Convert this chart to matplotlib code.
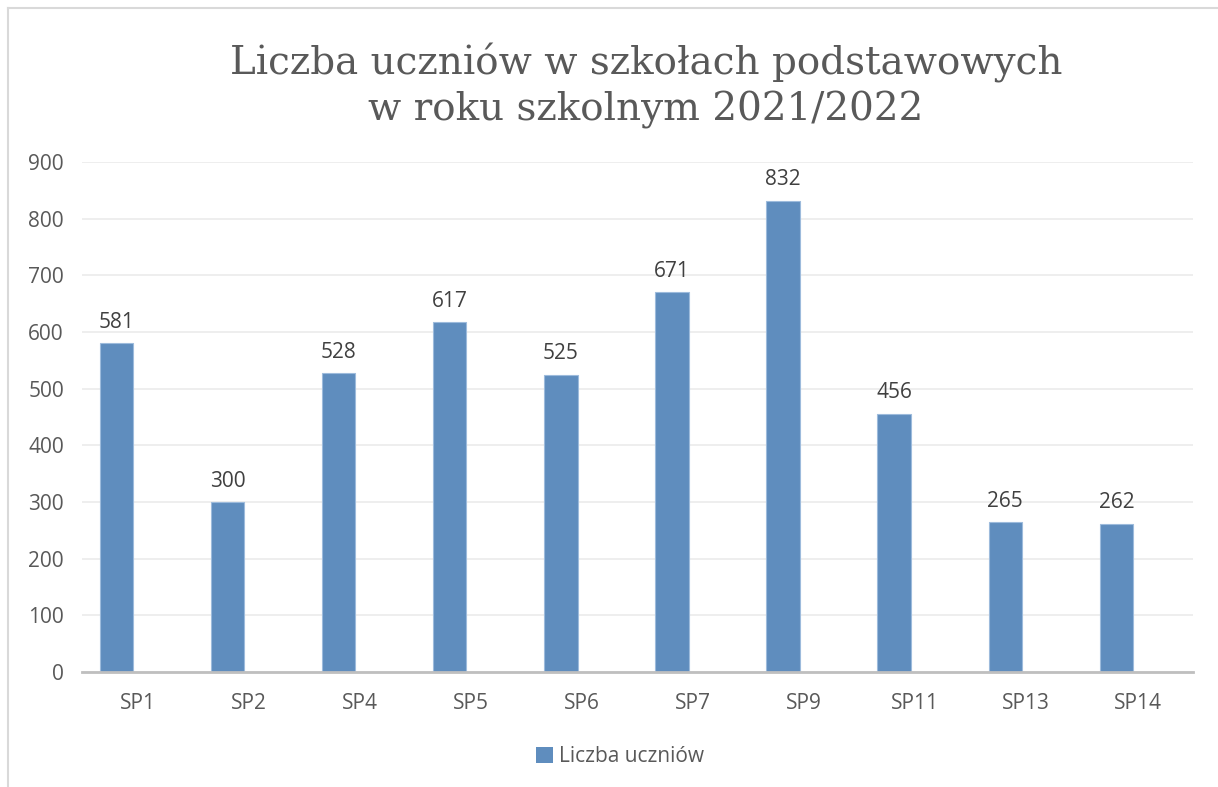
import numpy as np
import matplotlib.pyplot as plt
from matplotlib.lines import Line2D
from matplotlib.patches import Patch

# data
schools = ['SP1', 'SP2', 'SP4', 'SP5', 'SP6', 'SP7', 'SP9', 'SP11', 'SP13', 'SP14']
pupils = [581, 300, 528, 617, 525, 671, 832, 456, 265, 262]
y_ticks = [0, 100, 200, 300, 400, 500, 600, 700, 800, 900]

title = 'Liczba uczniów w szkołach podstawowych\nw roku szkolnym 2021/2022'
series_name = 'Liczba uczniów'

bar_color = '#5f8dbe'
text_color = '#595959'
sans = ['Open Sans', 'DejaVu Sans']
fsize = 15

fig = plt.figure(figsize=(12.18, 7.87), dpi=100)
fig.patch.set_facecolor('white')

# light frame of the chart area (top and left edges visible)
fig.add_artist(Line2D([8 / 1218, 1], [1 - 8 / 787, 1 - 8 / 787], color='#d9d9d9', lw=1.5,
                      transform=fig.transFigure))
fig.add_artist(Line2D([8 / 1218, 8 / 1218], [0, 1 - 8 / 787], color='#d9d9d9', lw=1.5,
                      transform=fig.transFigure))

ax = fig.add_axes([82 / 1218, 1 - 672 / 787, (1193 - 82) / 1218, (672 - 162) / 787])

x = np.arange(len(schools))
bars = ax.bar(x - 0.19, pupils, width=0.3, color=bar_color, edgecolor='#9dbbdc', linewidth=0.8,
              zorder=3)

for rect, val in zip(bars, pupils):
    ax.text(rect.get_x() + rect.get_width() / 2, val + 18, str(val), ha='center', va='bottom',
            fontsize=fsize, color='#404040', family=sans)

ax.set_xlim(-0.5, len(schools) - 0.5)
ax.set_ylim(0, 900)
ax.set_yticks(y_ticks)
ax.set_yticklabels([str(t) for t in y_ticks], family=sans, fontsize=fsize, color=text_color)
ax.set_xticks(x)
ax.set_xticklabels(schools, family=sans, fontsize=fsize, color=text_color)
ax.tick_params(axis='both', length=0)
ax.tick_params(axis='y', pad=13)
ax.tick_params(axis='x', pad=15)

ax.grid(axis='y', color='#ebebeb', lw=1.2, zorder=0)
for side in ['top', 'right', 'left']:
    ax.spines[side].set_visible(False)
ax.spines['bottom'].set_color('#bfbfbf')
ax.spines['bottom'].set_linewidth(2)
ax.spines['bottom'].set_zorder(4)

fig.text(646 / 1218, 1 - 86 / 787, title, ha='center', va='center', fontsize=28,
         color=text_color, family=['DejaVu Serif'], linespacing=1.28)

handle = Patch(facecolor=bar_color, edgecolor='none')
fig.legend([handle], [series_name], loc='center', bbox_to_anchor=(620 / 1218, 1 - 757 / 787),
           frameon=False, handlelength=0.8, handleheight=0.8, handletextpad=0.3,
           prop={'family': sans, 'size': fsize}, labelcolor=text_color)

plt.savefig('out.png', dpi=100, facecolor=fig.get_facecolor())
